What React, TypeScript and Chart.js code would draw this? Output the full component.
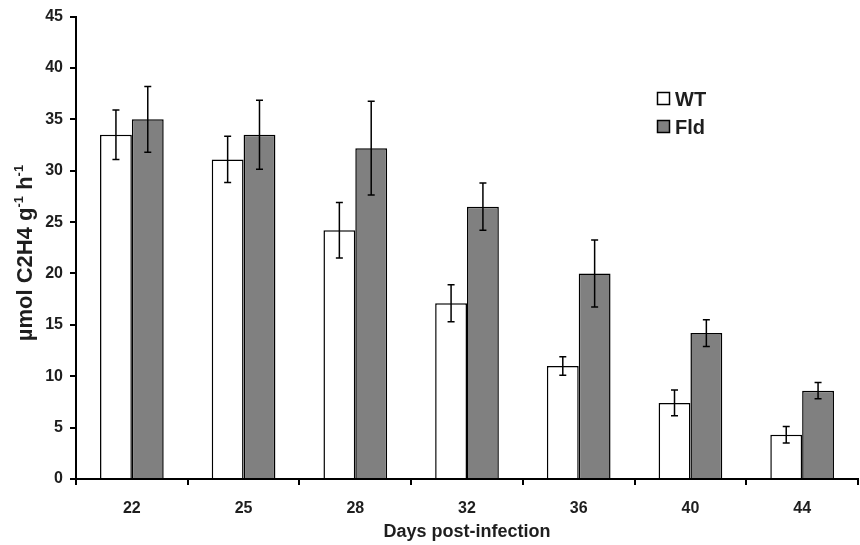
import React, { useEffect, useRef } from "react";
import { Chart, registerables } from "chart.js";

Chart.register(...registerables);

const days = ["22", "25", "28", "32", "36", "40", "44"];
const wtValues = [33.5, 31.1, 24.2, 17.1, 11.0, 7.4, 4.3];
const wtErrors = [2.4, 2.25, 2.7, 1.8, 0.9, 1.25, 0.8];
const fldValues = [35.0, 33.5, 32.2, 26.5, 20.0, 14.2, 8.6];
const fldErrors = [3.2, 3.35, 4.55, 2.3, 3.25, 1.3, 0.8];
const seriesNames = ["WT", "Fld"];
const xTitle = "Days post-infection";
const yTitleParts = [
  { t: "µmol C2H4 g", sup: false },
  { t: "-1", sup: true },
  { t: " h", sup: false },
  { t: "-1", sup: true },
];

const FONT = "'Liberation Sans', Arial, sans-serif";
const TEXT = "#1e1e1e";

const errorBarPlugin = {
  id: "errorBars",
  afterDatasetsDraw(chart: any) {
    const ctx = chart.ctx;
    const yScale = chart.scales.y;
    const errs = [wtErrors, fldErrors];
    chart.data.datasets.forEach((ds: any, di: number) => {
      const meta = chart.getDatasetMeta(di);
      meta.data.forEach((bar: any, i: number) => {
        const v = ds.data[i];
        const e = errs[di][i];
        const x = bar.x;
        const yt = yScale.getPixelForValue(v + e);
        const yb = yScale.getPixelForValue(v - e);
        ctx.save();
        ctx.strokeStyle = "#000";
        ctx.lineWidth = 1.5;
        ctx.beginPath();
        ctx.moveTo(x, yt);
        ctx.lineTo(x, yb);
        ctx.moveTo(x - 3.5, yt);
        ctx.lineTo(x + 3.5, yt);
        ctx.moveTo(x - 3.5, yb);
        ctx.lineTo(x + 3.5, yb);
        ctx.stroke();
        ctx.restore();
      });
    });
  },
};

const titlesPlugin = {
  id: "titlesLegend",
  afterDraw(chart: any) {
    const ctx = chart.ctx;
    const area = chart.chartArea;
    ctx.save();
    ctx.fillStyle = TEXT;
    // x title
    ctx.font = `bold 18px ${FONT}`;
    ctx.textAlign = "center";
    ctx.textBaseline = "alphabetic";
    ctx.fillText(xTitle, (area.left + area.right) / 2, 537);
    // y title with superscripts
    const mainFont = `bold 22px ${FONT}`;
    const supFont = `bold 13px ${FONT}`;
    let total = 0;
    yTitleParts.forEach((p) => {
      ctx.font = p.sup ? supFont : mainFont;
      total += ctx.measureText(p.t).width;
    });
    ctx.translate(32, 253);
    ctx.rotate(-Math.PI / 2);
    ctx.textAlign = "left";
    let x = -total / 2;
    yTitleParts.forEach((p) => {
      ctx.font = p.sup ? supFont : mainFont;
      ctx.fillText(p.t, x, p.sup ? -9 : 0);
      x += ctx.measureText(p.t).width;
    });
    ctx.restore();

    // legend
    ctx.save();
    const fills = ["#ffffff", "#808080"];
    const ys = [92, 120];
    seriesNames.forEach((name, i) => {
      ctx.fillStyle = fills[i];
      ctx.strokeStyle = "#000";
      ctx.lineWidth = 1.5;
      ctx.fillRect(657.5, ys[i] + 0.5, 12, 12);
      ctx.strokeRect(657.5, ys[i] + 0.5, 12, 12);
      ctx.fillStyle = TEXT;
      ctx.font = `bold 20px ${FONT}`;
      ctx.textAlign = "left";
      ctx.textBaseline = "alphabetic";
      ctx.fillText(name, 675, ys[i] + 14);
    });
    ctx.restore();
  },
};

export default function App() {
  const ref = useRef<HTMLCanvasElement>(null);
  useEffect(() => {
    if (!ref.current) return;
    const chart = new Chart(ref.current, {
      type: "bar",
      data: {
        labels: days,
        datasets: [
          {
            label: seriesNames[0],
            data: wtValues,
            backgroundColor: "#ffffff",
            borderColor: "#000",
            borderWidth: 1.5,
            borderSkipped: "bottom",
          },
          {
            label: seriesNames[1],
            data: fldValues,
            backgroundColor: "#808080",
            borderColor: "#000",
            borderWidth: 1.5,
            borderSkipped: "bottom",
          },
        ],
      },
      options: {
        animation: false,
        responsive: false,
        maintainAspectRatio: false,
        layout: { padding: { top: 14, right: 2, left: 0, bottom: 0 } },
        plugins: {
          legend: { display: false },
          tooltip: { enabled: false },
        },
        datasets: {
          bar: { barPercentage: 1, categoryPercentage: 0.57 },
        },
        scales: {
          x: {
            grid: {
              display: true,
              drawOnChartArea: false,
              drawTicks: true,
              tickLength: 6,
              color: "#000",
              lineWidth: 2,
              offset: true,
            },
            border: { display: true, color: "#000", width: 2 },
            ticks: {
              color: TEXT,
              font: { family: FONT, size: 16, weight: "bold" },
              padding: 14,
            },
            afterFit(scale: any) {
              scale.height = 545 - 479;
            },
          },
          y: {
            min: 0,
            max: 45,
            grid: {
              display: true,
              drawOnChartArea: false,
              drawTicks: true,
              tickLength: 6,
              color: "#000",
              lineWidth: 2,
            },
            border: { display: true, color: "#000", width: 2 },
            ticks: {
              stepSize: 5,
              color: TEXT,
              font: { family: FONT, size: 16, weight: "bold" },
              padding: 7,
            },
            afterFit(scale: any) {
              scale.width = 76;
            },
          },
        },
      },
      plugins: [errorBarPlugin, titlesPlugin],
    });
    return () => chart.destroy();
  }, []);
  return (
    <div style={{ position: "fixed", left: 0, top: 0, width: 860, height: 545, background: "#fff" }}>
      <canvas ref={ref} width={860} height={545} style={{ width: 860, height: 545 }} />
    </div>
  );
}
